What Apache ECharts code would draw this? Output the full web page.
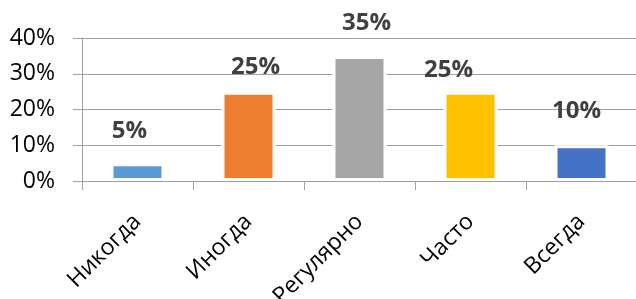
<!DOCTYPE html>
<html>
<head>
<meta charset="utf-8">
<script src="https://cdn.jsdelivr.net/npm/echarts@6/dist/echarts.min.js"></script>
<style>
  html, body { margin: 0; padding: 0; background: #fff; }
  #chart { width: 636px; height: 299px; }
</style>
</head>
<body>
<div id="chart"></div>
<script>
// категории и значения (%)
const categories = ['Никогда', 'Иногда', 'Регулярно', 'Часто', 'Всегда']
const values = [5, 25, 35, 25, 10]
const barColors = ['#5b9bd5', '#ed7d31', '#a5a5a5', '#ffc000', '#4472c4']
const yTicks = [0, 10, 20, 30, 40]

// сдвиги подписей (как вручную расставлено в исходнике)
const labelShift = [[-8, -15], [7, -7], [7, -16], [-22, -4], [-5, -17]]

const chart = echarts.init(document.getElementById('chart'))

const option = {
    animation: false,
    grid: { left: 82, right: -1, top: 38, bottom: 118, outerBoundsMode: 'none', containLabel: false },
    xAxis: {
        type: 'category',
        data: categories,
        z: 10,
        axisLine: { lineStyle: { color: '#a0a0a0', width: 1 } },
        axisTick: { show: true, length: 9, lineStyle: { color: '#a0a0a0' } },
        axisLabel: {
            rotate: 45,
            margin: 37,
            color: '#000',
            fontSize: 23,
            fontFamily: 'Open Sans'
        }
    },
    yAxis: {
        type: 'value',
        min: yTicks[0],
        max: yTicks[yTicks.length - 1],
        interval: 10,
        axisLine: { show: true, lineStyle: { color: '#a0a0a0', width: 1 } },
        axisTick: { show: true, length: 9, inside: false, lineStyle: { color: '#a0a0a0' } },
        splitLine: { lineStyle: { color: '#a0a0a0', width: 1 } },
        axisLabel: {
            formatter: '{value}%',
            margin: 27,
            color: '#000',
            fontSize: 23,
            fontFamily: 'Open Sans'
        }
    },
    series: [{
        type: 'bar',
        barWidth: 54,
        data: values.map((v, i) => ({
            value: v,
            itemStyle: { color: barColors[i] },
            label: { offset: labelShift[i] }
        })),
        itemStyle: { borderColor: '#fff', borderWidth: 3 },
        label: {
            show: true,
            position: 'top',
            formatter: '{c}%',
            color: '#404040',
            fontSize: 24,
            fontWeight: 'bold',
            fontFamily: 'Open Sans'
        }
    }]
}

chart.setOption(option)
</script>
</body>
</html>
